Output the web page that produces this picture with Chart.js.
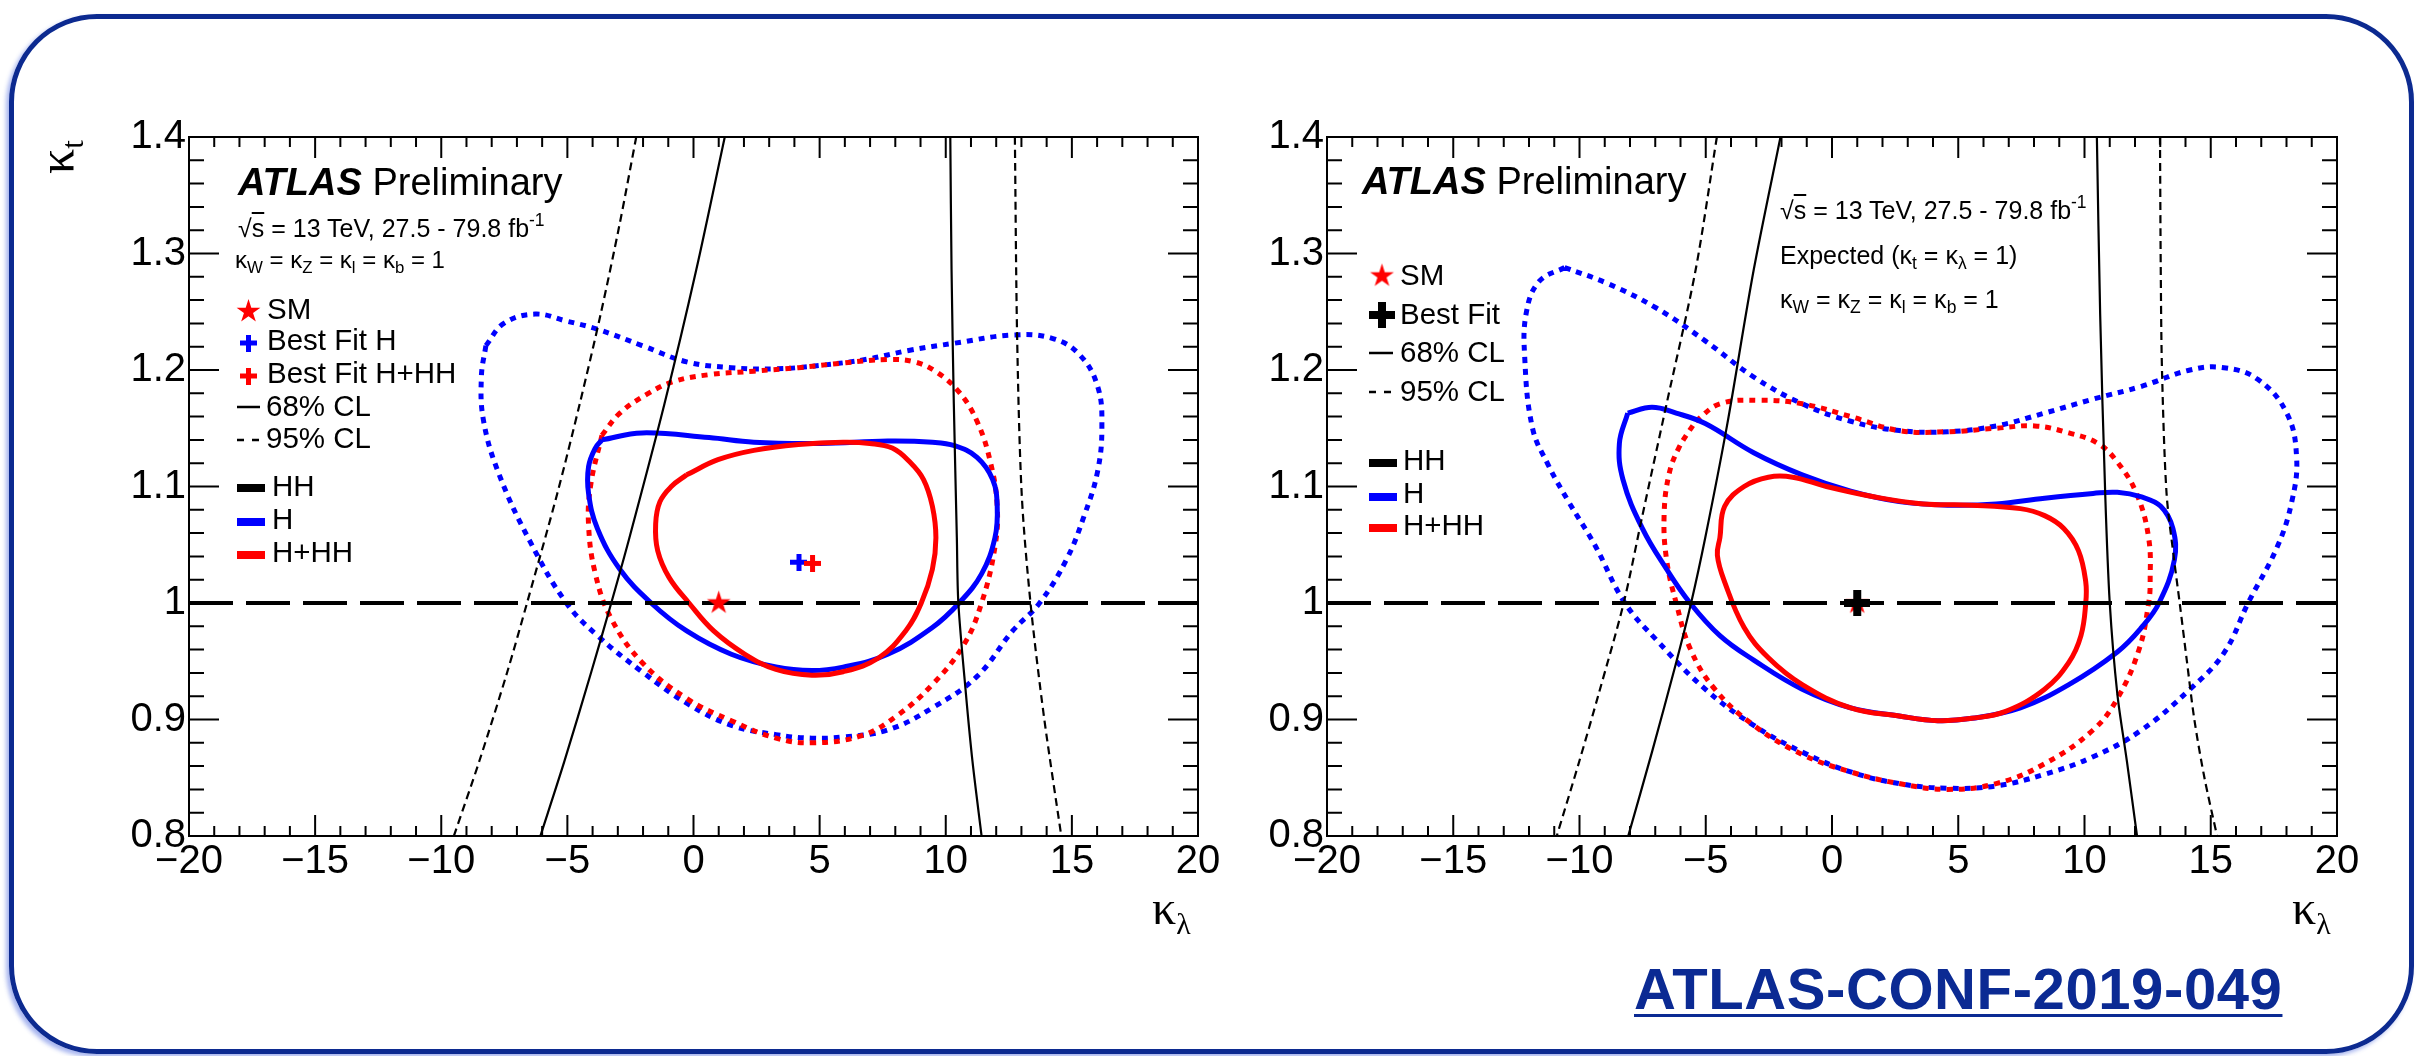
<!DOCTYPE html>
<html>
<head>
<meta charset="utf-8">
<title>kappa_lambda vs kappa_t</title>
<script src="https://cdn.jsdelivr.net/npm/chart.js@4.4.1/dist/chart.umd.min.js"></script>
<style>
  html, body { margin: 0; padding: 0; background: #fff; }
  body { position: relative; width: 2427px; height: 1056px; overflow: hidden; font-family: "Liberation Sans", Arial, sans-serif; }
  #box { position: absolute; left: 9px; top: 14px; width: 2405px; height: 1040px; box-sizing: border-box;
         border: 5px solid #0c2a90; border-radius: 88px; box-shadow: -3px 3px 4px rgba(60, 90, 220, 0.45); }
  canvas { position: absolute; top: 0; }
  .t { position: absolute; white-space: nowrap; line-height: 1; color: #000; }
  .t sub, .t sup { position: relative; font-size: 0.7em; line-height: 0; vertical-align: baseline; }
  .t sub { top: 0.3em; }
  .t sup { top: -0.6em; }
  .ov { text-decoration: overline; }
  .serif { font-family: "Liberation Serif", "DejaVu Serif", serif; }
  .serif sub { font-size: 0.62em; top: 0.32em; }
  #conf { color: #0b2a93; font-weight: bold; letter-spacing: 0.6px; text-decoration: underline;
          text-decoration-thickness: 3px; text-underline-offset: 5px; }
</style>
</head>
<body>
<div id="box"></div>
<canvas id="obs" width="1260" height="1056" style="left:0"></canvas>
<canvas id="exp" width="1187" height="1056" style="left:1240px"></canvas>
<script>
// axis tick values
const xTicks = [-20, -15, -10, -5, 0, 5, 10, 15, 20];
const yTicks = [0.8, 0.9, 1, 1.1, 1.2, 1.3, 1.4];

// markers  [kappa_lambda, kappa_t]
const smPoint = [1, 1];
const obsBestFitH = [4.18, 1.035];
const obsBestFitHHH = [4.72, 1.034];
const expBestFit = [1, 1];
const refLine = [[-20, 1], [20, 1]];

// observed: HH only (black)
const obsHH68a = [[1.24, 1.4], [0.11, 1.286], [-1.15, 1.171], [-2.54, 1.056], [-3.26, 1.0], [-4.05, 0.941], [-5.12, 0.864], [-6.07, 0.8]];
const obsHH68b = [[10.18, 1.4], [10.23, 1.286], [10.32, 1.171], [10.44, 1.056], [10.5, 1.0], [10.8, 0.922], [11.06, 0.864], [11.42, 0.8]];
const obsHH95a = [[-2.27, 1.4], [-2.94, 1.324], [-3.68, 1.248], [-4.51, 1.171], [-5.4, 1.094], [-6.6, 1.0], [-7.38, 0.941], [-8.48, 0.865], [-9.5, 0.8]];
const obsHH95b = [[12.74, 1.4], [12.83, 1.228], [13.01, 1.094], [13.36, 1.0], [13.89, 0.903], [14.58, 0.8]];

// observed: H only (blue)
const obsH68 = [[-3.63, 1.140], [-2.04, 1.146], [0.62, 1.142], [2.39, 1.138], [5.04, 1.137], [7.70, 1.139], [9.47, 1.138],
  [10.35, 1.135], [11.24, 1.125], [11.86, 1.106], [12.04, 1.083], [11.95, 1.056], [11.42, 1.025], [10.53, 1.000],
  [9.47, 0.979], [7.70, 0.956], [5.93, 0.945], [4.69, 0.942], [3.27, 0.945], [1.50, 0.956], [-0.27, 0.976],
  [-1.68, 1.000], [-2.92, 1.029], [-3.81, 1.064], [-4.16, 1.094], [-4.16, 1.117], [-3.89, 1.133], [-3.63, 1.140]];
const obsH95 = [[-8.23, 1.221], [-7.52, 1.240], [-6.28, 1.248], [-5.04, 1.242], [-3.81, 1.235], [-2.04, 1.221],
  [-0.27, 1.207], [1.50, 1.202], [3.27, 1.201], [5.04, 1.204], [6.81, 1.209], [8.58, 1.217], [10.35, 1.223],
  [12.65, 1.230], [14.25, 1.227], [15.31, 1.213], [16.02, 1.186], [16.19, 1.152], [16.02, 1.113], [15.49, 1.075],
  [14.78, 1.037], [13.72, 1.000], [12.65, 0.976], [11.24, 0.937], [9.47, 0.910], [7.70, 0.891], [5.93, 0.885],
  [4.69, 0.884], [3.27, 0.887], [1.50, 0.895], [-0.27, 0.914], [-2.04, 0.941], [-3.81, 0.972], [-5.04, 1.000],
  [-6.46, 1.052], [-7.70, 1.110], [-8.32, 1.156], [-8.41, 1.194], [-8.23, 1.221]];

// observed: H+HH (red)
const obsHHH68 = [[-0.27, 1.110], [0.97, 1.123], [2.39, 1.131], [4.16, 1.136], [5.93, 1.138], [6.99, 1.137], [7.88, 1.133],
  [8.58, 1.121], [9.12, 1.106], [9.47, 1.083], [9.61, 1.056], [9.47, 1.029], [9.03, 1.000], [8.41, 0.976],
  [7.35, 0.953], [5.93, 0.941], [4.69, 0.938], [3.27, 0.943], [2.04, 0.956], [0.80, 0.976], [-0.18, 1.000],
  [-0.97, 1.022], [-1.42, 1.045], [-1.50, 1.068], [-1.33, 1.087], [-0.88, 1.100], [-0.27, 1.110]];
const obsHHH95 = [[-3.63, 1.144], [-2.92, 1.163], [-1.86, 1.179], [-0.80, 1.190], [0.62, 1.196], [2.39, 1.199],
  [4.16, 1.202], [5.93, 1.206], [7.70, 1.209], [8.76, 1.207], [9.65, 1.198], [10.53, 1.181], [11.24, 1.156],
  [11.77, 1.121], [12.04, 1.083], [11.95, 1.048], [11.42, 1.000], [10.71, 0.964], [9.47, 0.930], [8.05, 0.903],
  [6.64, 0.886], [4.69, 0.880], [3.27, 0.884], [1.50, 0.899], [-0.27, 0.918], [-2.04, 0.949], [-3.27, 0.987],
  [-3.89, 1.025], [-4.16, 1.067], [-4.07, 1.102], [-3.63, 1.144]];

// expected: HH only (black)
const expHH68a = [[-2.04, 1.4], [-3.10, 1.286], [-4.16, 1.152], [-5.02, 1.056], [-5.58, 1.0], [-6.17, 0.949], [-7.13, 0.872], [-8.07, 0.8]];
const expHH68b = [[10.49, 1.4], [10.62, 1.248], [10.82, 1.094], [11.0, 1.0], [11.30, 0.922], [11.68, 0.864], [12.08, 0.8]];
const expHH95a = [[-4.56, 1.4], [-5.40, 1.286], [-6.55, 1.171], [-7.51, 1.075], [-8.25, 1.0], [-9.24, 0.922], [-10.01, 0.864], [-10.9, 0.8]];
const expHH95b = [[12.99, 1.4], [13.02, 1.286], [13.07, 1.199], [13.25, 1.094], [13.55, 1.037], [13.77, 1.0],
  [14.05, 0.951], [14.35, 0.9], [14.75, 0.85], [15.25, 0.8]];

// expected: H only (blue)
const expH68 = [[-8.09, 1.163], [-7.13, 1.168], [-6.17, 1.163], [-5.02, 1.154], [-3.10, 1.129], [-1.18, 1.110],
  [0.74, 1.096], [2.66, 1.087], [4.58, 1.084], [6.50, 1.085], [8.42, 1.090], [10.34, 1.094], [11.30, 1.095],
  [12.26, 1.091], [13.02, 1.083], [13.50, 1.064], [13.56, 1.037], [12.95, 1.000], [12.26, 0.979], [11.30, 0.958],
  [9.38, 0.930], [7.46, 0.910], [5.54, 0.901], [4.19, 0.899], [2.66, 0.903], [0.74, 0.910], [-1.18, 0.926],
  [-3.10, 0.951], [-4.44, 0.972], [-5.62, 1.000], [-6.55, 1.029], [-7.51, 1.064], [-8.28, 1.106], [-8.42, 1.137],
  [-8.09, 1.163]];
const expH95 = [[-10.59, 1.288], [-8.86, 1.274], [-6.94, 1.253], [-5.02, 1.225], [-3.10, 1.194], [-1.18, 1.171],
  [0.74, 1.156], [2.66, 1.148], [4.58, 1.147], [6.50, 1.152], [8.42, 1.163], [10.34, 1.175], [12.26, 1.186],
  [14.18, 1.200], [15.52, 1.202], [16.86, 1.192], [18.01, 1.163], [18.40, 1.125], [18.21, 1.087], [17.63, 1.048],
  [16.48, 1.000], [15.52, 0.957], [14.18, 0.926], [12.26, 0.891], [10.34, 0.868], [8.42, 0.853], [6.50, 0.843],
  [4.58, 0.841], [2.66, 0.845], [0.74, 0.855], [-1.18, 0.872], [-3.10, 0.895], [-5.02, 0.926], [-6.94, 0.968],
  [-8.2, 1.000], [-9.4, 1.050], [-10.46, 1.088], [-11.25, 1.119], [-11.86, 1.150], [-12.17, 1.211],
  [-12.1, 1.250], [-11.6, 1.276], [-10.59, 1.288]];

// expected: H+HH (red)
const expHHH68 = [[-4.44, 1.056], [-4.25, 1.083], [-3.48, 1.100], [-2.52, 1.108], [-1.56, 1.108], [-0.22, 1.100],
  [1.70, 1.091], [3.62, 1.085], [5.54, 1.084], [7.46, 1.081], [8.42, 1.075], [9.18, 1.064], [9.76, 1.045],
  [10.05, 1.018], [10.05, 1.000], [9.86, 0.972], [9.38, 0.949], [8.42, 0.926], [6.88, 0.907], [5.54, 0.901],
  [4.19, 0.899], [2.66, 0.903], [0.74, 0.910], [-1.18, 0.930], [-2.52, 0.953], [-3.48, 0.979], [-4.25, 1.018],
  [-4.54, 1.041], [-4.44, 1.056]];
const expHHH95 = [[-5.40, 1.156], [-4.44, 1.171], [-2.91, 1.174], [-1.18, 1.171], [0.74, 1.160], [2.66, 1.148],
  [4.58, 1.147], [6.50, 1.150], [8.03, 1.152], [9.38, 1.146], [10.53, 1.137], [11.30, 1.121], [12.06, 1.094],
  [12.54, 1.056], [12.60, 1.018], [12.54, 1.000], [12.16, 0.960], [11.30, 0.918], [10.34, 0.891], [8.42, 0.862],
  [6.50, 0.845], [4.58, 0.840], [2.66, 0.845], [0.74, 0.855], [-1.18, 0.870], [-3.10, 0.895], [-4.64, 0.926],
  [-5.60, 0.960], [-6.17, 1.000], [-6.55, 1.037], [-6.65, 1.075], [-6.46, 1.110], [-6.07, 1.133], [-5.40, 1.156]];

// legend labels
const obsLegend = ['SM', 'Best Fit H', 'Best Fit H+HH', '68% CL', '95% CL', 'HH', 'H', 'H+HH'];
const expLegend = ['SM', 'Best Fit', '68% CL', '95% CL', 'HH', 'H', 'H+HH'];

const BLUE = '#0000ff', RED = '#ff0000', BLACK = '#000000';
const DOTS = [6, 6];
const DASHES = [8, 5];

// marker images (filled star, thick plus)
function starImage(color, R) {
  const c = document.createElement('canvas');
  const s = Math.ceil(R * 2 + 4);
  c.width = c.height = s;
  const g = c.getContext('2d');
  g.fillStyle = color;
  g.beginPath();
  for (let i = 0; i < 10; i++) {
    const r = i % 2 ? R * 0.382 : R;
    const a = -Math.PI / 2 + i * Math.PI / 5;
    g.lineTo(s / 2 + r * Math.cos(a), s / 2 + r * Math.sin(a));
  }
  g.closePath();
  g.fill();
  return c;
}
function crossImage(color, size, thick) {
  const c = document.createElement('canvas');
  c.width = c.height = size;
  const g = c.getContext('2d');
  g.fillStyle = color;
  const o = (size - thick) / 2;
  g.fillRect(o, 0, thick, size);
  g.fillRect(0, o, size, thick);
  return c;
}
const starImg = starImage(RED, 12.5);
const blueCross = crossImage(BLUE, 17, 5);
const redCross = crossImage(RED, 17, 5);
const blackCross = crossImage(BLACK, 26, 8);

const pts = arr => arr.map(([x, y]) => ({x, y}));

function curve(arr, color, width, dash, tension) {
  return {
    data: pts(arr), showLine: true, borderColor: color, borderWidth: width,
    borderDash: dash || [], pointRadius: 0, fill: false,
    tension: tension === undefined ? 0.4 : tension,
    borderCapStyle: 'butt', borderJoinStyle: 'round'
  };
}
function marker(p, img) {
  return { data: pts([p]), showLine: false, pointStyle: img, pointRadius: 10 };
}

// ROOT-like frame with inward ticks on all four sides
const rootFrame = {
  id: 'rootFrame',
  afterDraw(chart) {
    const {ctx, chartArea: a, scales: {x, y}} = chart;
    ctx.save();
    ctx.strokeStyle = BLACK;
    ctx.lineWidth = 2;
    ctx.setLineDash([]);
    ctx.beginPath();
    for (let v = xTicks[0]; v <= xTicks[xTicks.length - 1]; v += 1) {
      const px = x.getPixelForValue(v);
      const len = xTicks.includes(v) ? 21 : 10;
      ctx.moveTo(px, a.bottom); ctx.lineTo(px, a.bottom - len);
      ctx.moveTo(px, a.top); ctx.lineTo(px, a.top + len);
    }
    for (let i = Math.round(yTicks[0] * 50); i <= Math.round(yTicks[yTicks.length - 1] * 50); i++) {
      const py = y.getPixelForValue(i / 50);
      const len = i % 5 === 0 ? 30 : 15;
      ctx.moveTo(a.left, py); ctx.lineTo(a.left + len, py);
      ctx.moveTo(a.right, py); ctx.lineTo(a.right - len, py);
    }
    ctx.stroke();
    ctx.strokeRect(a.left, a.top, a.right - a.left, a.bottom - a.top);
    ctx.restore();
  }
};

// legend symbols (page coords, shifted into the canvas)
function legendMarks(offsetX, items) {
  return {
    id: 'legendMarks',
    afterDraw(chart) {
      const ctx = chart.ctx;
      ctx.save();
      items.forEach(it => {
        const x = it.x - offsetX;
        if (it.img) {
          ctx.drawImage(it.img, x - it.img.width / 2, it.y - it.img.height / 2);
          return;
        }
        ctx.beginPath();
        ctx.strokeStyle = it.color;
        ctx.lineWidth = it.w;
        ctx.setLineDash(it.dash || []);
        ctx.moveTo(x, it.y);
        ctx.lineTo(x + it.len, it.y);
        ctx.stroke();
      });
      ctx.restore();
    }
  };
}

function makeChart(id, datasets, yWidth, padRight, legend) {
  const font = {family: 'Liberation Sans', size: 40};
  return new Chart(document.getElementById(id), {
    type: 'scatter',
    data: {datasets},
    options: {
      responsive: false,
      animation: false,
      devicePixelRatio: 1,
      events: [],
      layout: {padding: {left: 0, right: padRight, top: 137, bottom: 160}},
      plugins: {legend: {display: false}, tooltip: {enabled: false}},
      scales: {
        x: {
          type: 'linear', min: xTicks[0], max: xTicks[xTicks.length - 1],
          afterBuildTicks: s => { s.ticks = xTicks.map(v => ({value: v})); },
          afterFit: s => { s.height = 60; },
          grid: {display: false, drawTicks: false},
          border: {display: false},
          ticks: {font, color: BLACK, padding: 2, maxRotation: 0, autoSkip: false,
                  callback: v => (v < 0 ? '\u2212' + (-v) : String(v))}
        },
        y: {
          type: 'linear', min: yTicks[0], max: yTicks[yTicks.length - 1],
          afterBuildTicks: s => { s.ticks = yTicks.map(v => ({value: v})); },
          afterFit: s => { s.width = yWidth; },
          grid: {display: false, drawTicks: false},
          border: {display: false},
          ticks: {font, color: BLACK, padding: 3, autoSkip: false, callback: v => String(v)}
        }
      }
    },
    plugins: [rootFrame, legend]
  });
}

// observed (left pad)
makeChart('obs', [
  marker(obsBestFitHHH, redCross),
  marker(obsBestFitH, blueCross),
  marker(smPoint, starImg),
  curve(refLine, BLACK, 4, [44, 13], 0),
  curve(obsHH68a, BLACK, 2.2, [], 0.3),
  curve(obsHH68b, BLACK, 2.2, [], 0.3),
  curve(obsHH95a, BLACK, 2.2, DASHES, 0.3),
  curve(obsHH95b, BLACK, 2.2, DASHES, 0.3),
  curve(obsHHH68, RED, 5),
  curve(obsH68, BLUE, 5),
  curve(obsHHH95, RED, 5, DOTS),
  curve(obsH95, BLUE, 5, DOTS)
], 189, 62, legendMarks(0, [
  {img: starImg, x: 248.5, y: 311.5},
  {img: blueCross, x: 248.5, y: 343},
  {img: redCross, x: 248.5, y: 376},
  {x: 237, y: 407, len: 23, w: 2.5, color: BLACK},
  {x: 237, y: 440, len: 23, w: 2.5, color: BLACK, dash: [7, 8]},
  {x: 237, y: 488, len: 28, w: 8, color: BLACK},
  {x: 237, y: 522, len: 28, w: 8, color: BLUE},
  {x: 237, y: 555, len: 28, w: 8, color: RED}
]));

// expected (right pad)
makeChart('exp', [
  marker(expBestFit, blackCross),
  marker(smPoint, starImg),
  curve(refLine, BLACK, 4, [44, 13], 0),
  curve(expHH68a, BLACK, 2.2, [], 0.3),
  curve(expHH68b, BLACK, 2.2, [], 0.3),
  curve(expHH95a, BLACK, 2.2, DASHES, 0.3),
  curve(expHH95b, BLACK, 2.2, DASHES, 0.3),
  curve(expHHH68, RED, 5),
  curve(expH68, BLUE, 5),
  curve(expHHH95, RED, 5, DOTS),
  curve(expH95, BLUE, 5, DOTS)
], 87, 90, legendMarks(1240, [
  {img: starImg, x: 1382, y: 276},
  {img: blackCross, x: 1382, y: 315},
  {x: 1369, y: 353, len: 24, w: 2.5, color: BLACK},
  {x: 1369, y: 392, len: 24, w: 2.5, color: BLACK, dash: [7, 8]},
  {x: 1369, y: 463, len: 28, w: 8, color: BLACK},
  {x: 1369, y: 497, len: 28, w: 8, color: BLUE},
  {x: 1369, y: 528, len: 28, w: 8, color: RED}
]));

// text, placed by baseline
function put(html, x, base, size, cls, id) {
  const d = document.createElement('div');
  d.className = 't' + (cls ? ' ' + cls : '');
  if (id) d.id = id;
  d.style.left = x + 'px';
  d.style.top = (base - 0.845 * size) + 'px';
  d.style.fontSize = size + 'px';
  d.innerHTML = html;
  document.body.appendChild(d);
  return d;
}

const atlas = '<b><i>ATLAS</i></b> Preliminary';
const energy = '\u221A<span class="ov">s</span> = 13 TeV, 27.5 - 79.8 fb<sup>-1</sup>';
const kappas = '\u03BA<sub>W</sub> = \u03BA<sub>Z</sub> = \u03BA<sub>l</sub> = \u03BA<sub>b</sub> = 1';
const expected = 'Expected (\u03BA<sub>t</sub> = \u03BA<sub>\u03BB</sub> = 1)';

put(atlas, 238, 195, 38);
put(energy, 238, 237, 25);
put(kappas, 235, 268, 24);
const obsBase = [[267, 319], [267, 350], [267, 383], [266, 416], [266, 448], [272, 496], [272, 529], [272, 562]];
obsLegend.forEach((s, i) => put(s, obsBase[i][0], obsBase[i][1], 29.5));

put(atlas, 1362, 194, 38);
put(energy, 1780, 219, 25);
put(expected, 1780, 264, 25);
put(kappas, 1780, 308, 25);
const expBase = [[1400, 285], [1400, 324], [1400, 362], [1400, 401], [1403, 470], [1403, 503], [1403, 535]];
expLegend.forEach((s, i) => put(s, expBase[i][0], expBase[i][1], 29.5));

// axis titles
put('\u03BA<sub>\u03BB</sub>', 1152, 925, 48, 'serif');
put('\u03BA<sub>\u03BB</sub>', 2292, 925, 48, 'serif');
const yt = put('\u03BA<sub>t</sub>', 31, 174, 50, 'serif');
yt.style.top = '174px';
yt.style.transformOrigin = '0 0';
yt.style.transform = 'rotate(-90deg)';

put('ATLAS-CONF-2019-049', 1634, 1009, 58, '', 'conf');
</script>
</body>
</html>
